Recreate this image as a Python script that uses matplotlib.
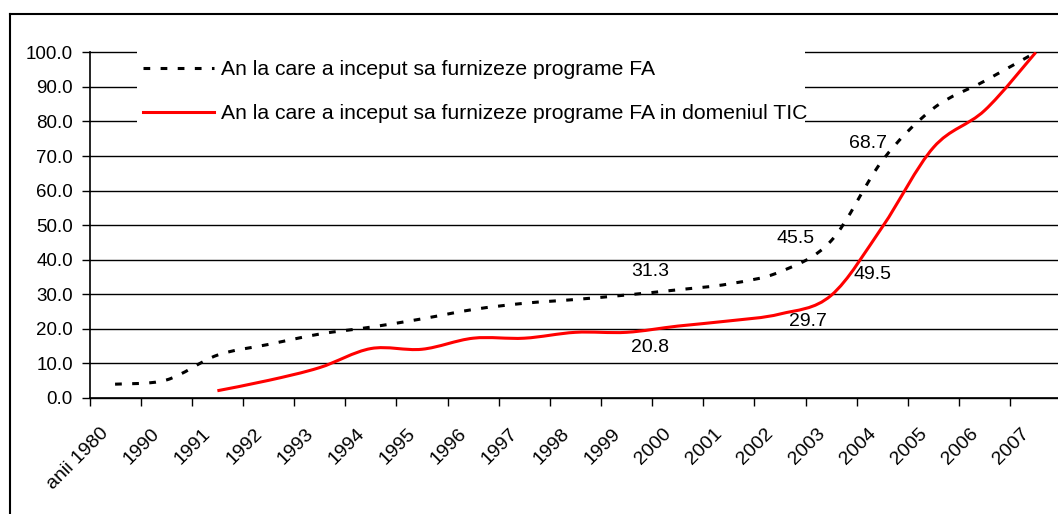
import numpy as np
import matplotlib
matplotlib.use("Agg")
import matplotlib.pyplot as plt
from matplotlib.lines import Line2D
from matplotlib.path import Path
from matplotlib.patches import PathPatch, Rectangle

plt.rcParams['font.family'] = ['Liberation Sans', 'DejaVu Sans']

# categorii (ani)
categories = ['anii 1980', '1990', '1991', '1992', '1993', '1994', '1995',
              '1996', '1997', '1998', '1999', '2000', '2001', '2002', '2003',
              '2004', '2005', '2006', '2007']

# % cumulat - programe FA
fa_values = [4.0, 5.2, 12.4, 15.5, 18.5, 20.5, 22.9, 25.6, 27.4, 28.5, 29.8,
             31.3, 33.0, 36.5, 45.5, 68.7, 83.8, 91.7, 100.0]
# % cumulat - programe FA in domeniul TIC
tic_values = [np.nan, np.nan, 2.1, 5.1, 8.8, 14.3, 14.1, 17.3, 17.3, 19.0,
              19.0, 20.8, 22.3, 24.3, 29.7, 49.5, 72.5, 83.2, 100.0]

fa_label = 'An la care a inceput sa furnizeze programe FA'
tic_label = 'An la care a inceput sa furnizeze programe FA in domeniul TIC'

# etichete de date: (serie, index categorie, offset x px, offset y px)
data_labels = [
    ('fa', 11, -28, 18), ('tic', 11, -28, -21),
    ('tic', 14, -23, -26), ('fa', 14, -36, 2),
    ('tic', 15, -10, -48), ('fa', 15, -14, 17),
]


def smooth_path(xs, ys):
    """Linie netezita (ca in Excel) - curbe Bezier prin punctele seriei."""
    pts = [np.array([a, b]) for a, b in zip(xs, ys) if not np.isnan(b)]
    verts = [pts[0]]
    codes = [Path.MOVETO]
    for i in range(len(pts) - 1):
        p0 = pts[i - 1] if i > 0 else pts[i]
        p1, p2 = pts[i], pts[i + 1]
        p3 = pts[i + 2] if i + 2 < len(pts) else pts[i + 1]
        verts += [p1 + (p2 - p0) / 6, p2 - (p3 - p1) / 6, p2]
        codes += [Path.CURVE4] * 3
    return Path(verts, codes)


W, H = 1058, 514
fig = plt.figure(figsize=(W / 100, H / 100), dpi=100)

left, right, top, bottom = 89.5, 1061.4, 52.3, 398.0
ax = fig.add_axes([left / W, 1 - bottom / H, (right - left) / W, (bottom - top) / H])

x = np.arange(len(categories))
fa_style = dict(color='black', lw=2.2, linestyle=(0, (2.2, 3.4)))
tic_style = dict(color='#ff0000', lw=2.2, linestyle='-')

ax.add_patch(PathPatch(smooth_path(x, fa_values), fill=False, capstyle='butt',
                       edgecolor=fa_style['color'], lw=fa_style['lw'],
                       linestyle=fa_style['linestyle'], zorder=3))
ax.add_patch(PathPatch(smooth_path(x, tic_values), fill=False,
                       edgecolor=tic_style['color'], lw=tic_style['lw'], zorder=4))

ax.set_xlim(-0.5, len(categories) - 0.5)
ax.set_ylim(0, 100)

# axa Y
ax.set_yticks(np.arange(0, 101, 10))
ax.set_yticklabels([f'{v:.1f}' for v in np.arange(0, 101, 10)])
ax.tick_params(axis='y', direction='out', length=6, width=1.0, pad=6,
               labelsize=13.5, colors='black')
ax.yaxis.grid(True, color='black', lw=1.0)
for gl in ax.get_ygridlines():
    gl.set_clip_on(False)
ax.set_axisbelow(True)

# axa X - tick-uri intre categorii, etichete la mijloc
ax.set_xticks(np.arange(-0.5, len(categories) - 0.5, 1))
ax.set_xticklabels([])
ax.tick_params(axis='x', direction='out', length=6, width=1.0, colors='black')
for i, c in enumerate(categories):
    ax.annotate(c, xy=(i, 0), xycoords=('data', 'axes fraction'),
                xytext=(-9, -33), textcoords='offset pixels',
                rotation=45, rotation_mode='anchor', ha='right', va='center',
                fontsize=14, annotation_clip=False)

for s in ['top', 'right']:
    ax.spines[s].set_visible(False)
for s in ['left', 'bottom']:
    ax.spines[s].set_linewidth(1.2)
    ax.spines[s].set_color('black')

# etichete de date
for serie, i, dx, dy in data_labels:
    v = fa_values[i] if serie == 'fa' else tic_values[i]
    ax.annotate(f'{v:.1f}', xy=(i, v), xytext=(dx, dy), textcoords='offset pixels',
                ha='center', va='center', fontsize=14, zorder=5)

# legenda - fundal alb peste liniile de grila
ax.add_patch(Rectangle((137 / W, 1 - 131 / H), (805 - 137) / W, (131 - 44) / H,
                       transform=fig.transFigure, facecolor='white',
                       edgecolor='none', clip_on=False, zorder=5))
handles = [Line2D([], [], **fa_style), Line2D([], [], **tic_style)]
leg = ax.legend(handles, [fa_label, tic_label], loc='upper left',
                bbox_to_anchor=(137 / W, 1 - 54 / H),
                bbox_transform=fig.transFigure, frameon=False,
                fontsize=15.2, handlelength=3.35, handletextpad=0.33,
                borderpad=0.3, labelspacing=1.19, borderaxespad=0)
leg.set_zorder(6)

# chenarul exterior
fig.add_artist(Line2D([10 / W, 10 / W], [0, 1 - 14 / H], color='black', lw=1.5,
                      transform=fig.transFigure))
fig.add_artist(Line2D([10 / W, 1], [1 - 14 / H, 1 - 14 / H], color='black', lw=1.5,
                      transform=fig.transFigure))

fig.savefig('out.png', dpi=100)
